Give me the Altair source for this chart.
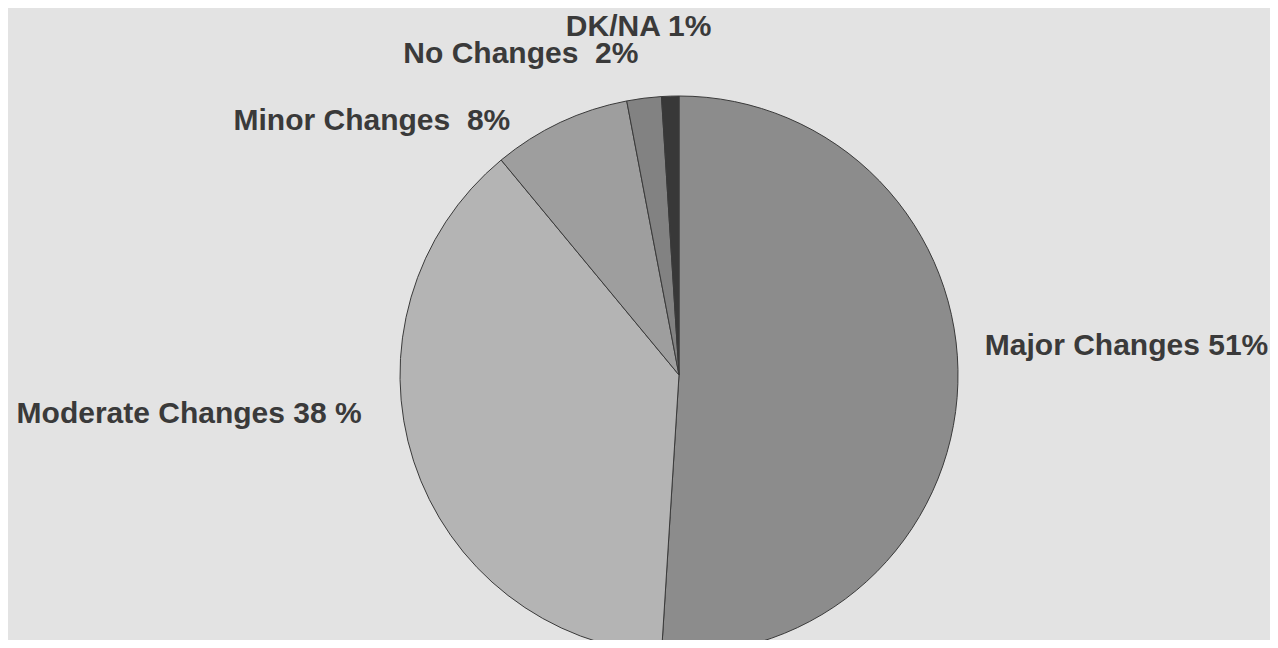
import altair as alt
import pandas as pd

categories = ["Major Changes", "Moderate Changes", "Minor Changes", "No Changes", "DK/NA"]
values = [51, 38, 8, 2, 1]
labels = ["Major Changes 51%", "Moderate Changes 38 %", "Minor Changes\u00a0 8%", "No Changes\u00a0 2%", "DK/NA 1%"]
order_idx = [0, 1, 2, 3, 4]
colors = ["#8c8c8c", "#b4b4b4", "#9e9e9e", "#828282", "#383838"]

df = pd.DataFrame({"category": categories, "value": values, "label": labels, "idx": order_idx})

CX, CY, R = 671, 367, 279

base = alt.Chart(df).encode(
    theta=alt.Theta("value:Q", stack=True),
    order=alt.Order("idx:O"),
    x=alt.value(CX),
    y=alt.value(CY),
)

pie = base.mark_arc(outerRadius=R, stroke="#3a3a3a", strokeWidth=1).encode(
    color=alt.Color("category:N", scale=alt.Scale(domain=categories, range=colors), legend=None)
)


def lab(cat, radius, align, dx, dy):
    return base.mark_text(
        radius=radius, align=align, dx=dx, dy=dy, baseline="alphabetic",
        font="Liberation Sans", fontWeight="bold", fontSize=30, color="#3a3a3a",
    ).encode(
        text=alt.condition(f"datum.category === '{cat}'", alt.Text("label:N"), alt.value(""))
    )


layers = [
    pie,
    lab("Major Changes", 306, "left", 0, -30),
    lab("Moderate Changes", 300, "right", -32, -45),
    lab("Minor Changes", 300, "right", -41, 26),
    lab("No Changes", 300, "right", -3, -14),
    lab("DK/NA", 300, "center", -31, -39),
]

chart = alt.layer(*layers).properties(
    width=1262, height=632,
    autosize=alt.AutoSizeParams(type="none"),
    padding=0,
    background="#e3e3e3",
).configure_view(stroke=None)

chart.save("out.html", embed_options={"renderer": "svg", "actions": False})
